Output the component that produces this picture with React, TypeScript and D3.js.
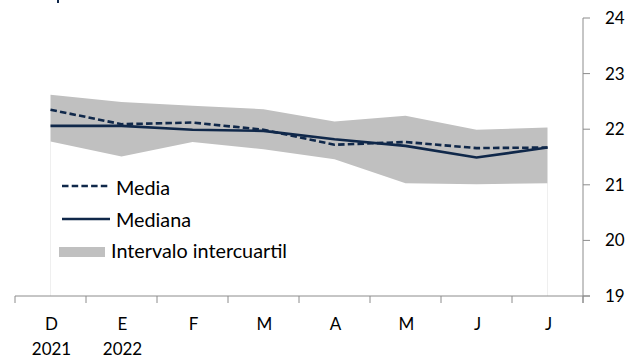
import React from "react";
import * as d3 from "d3";

const months = ["D", "E", "F", "M", "A", "M", "J", "J"];
const years = ["2021", "2022", "", "", "", "", "", ""];
const media = [22.35, 22.09, 22.12, 21.99, 21.72, 21.77, 21.66, 21.67];
const mediana = [22.06, 22.06, 21.99, 21.97, 21.82, 21.7, 21.49, 21.67];
const upper = [22.62, 22.49, 22.42, 22.36, 22.14, 22.24, 21.99, 22.03];
const lower = [21.78, 21.51, 21.77, 21.64, 21.46, 21.03, 21.01, 21.03];
const yTicks = [19, 20, 21, 22, 23, 24];
const legendLabels = ["Media", "Mediana", "Intervalo intercuartil"];

const W = 639;
const H = 358;
const FONT = "Lato, 'Open Sans', sans-serif";
const NAVY = "#10284a";
const GRAY = "#c0c0c0";
const AXIS = "#8c8c8c";

export default function App() {
  const idx = months.map((_, i) => i);
  const x = d3.scaleBand<number>().domain(idx).range([15, 583]);
  const cx = (i: number) => (x(i) as number) + x.bandwidth() / 2;
  const y = d3.scaleLinear().domain([19, 24]).range([296, 18]);
  const axisRight = 583;

  const area = d3
    .area<number>()
    .x((i) => cx(i))
    .y0((i) => y(lower[i]))
    .y1((i) => y(upper[i]));
  const lineOf = (arr: number[]) =>
    d3
      .line<number>()
      .x((i) => cx(i))
      .y((i) => y(arr[i]))(idx) as string;

  const tickXs = idx.map((i) => x(i) as number).concat([583]);
  const last = idx.length - 1;

  return (
    <svg
      width={W}
      height={H}
      style={{ position: "absolute", left: 0, top: 0, background: "#fff" }}
      fontFamily={FONT}
    >
      <rect x={57} y={0} width={2} height={3} fill={NAVY} />
      {/* faint edges of the invisible base area */}
      <line x1={cx(0)} x2={cx(0)} y1={y(lower[0])} y2={296} stroke="#efefef" strokeWidth={1} />
      <line x1={cx(last)} x2={cx(last)} y1={y(lower[last])} y2={296} stroke="#efefef" strokeWidth={1} />
      <path d={area(idx) as string} fill={GRAY} />
      <path d={lineOf(mediana)} fill="none" stroke={NAVY} strokeWidth={2.6} />
      <path
        d={lineOf(media)}
        fill="none"
        stroke={NAVY}
        strokeWidth={2.6}
        strokeDasharray="6.5,3.2"
      />

      {/* x axis */}
      <line x1={15} x2={590} y1={296} y2={296} stroke={AXIS} strokeWidth={1} />
      {tickXs.map((t, k) => (
        <line key={k} x1={t} x2={t} y1={296} y2={303} stroke={AXIS} strokeWidth={1} />
      ))}
      {months.map((m, i) => (
        <text key={"m" + i} x={cx(i) + 1} y={330} textAnchor="middle" fontSize={17} fill="#000">
          {m}
        </text>
      ))}
      {years.map((yy, i) =>
        yy ? (
          <text key={"y" + i} x={cx(i) + 1} y={355} textAnchor="middle" fontSize={17} fill="#000">
            {yy}
          </text>
        ) : null
      )}

      {/* y axis */}
      <line x1={axisRight} x2={axisRight} y1={18} y2={303} stroke={AXIS} strokeWidth={1} />
      {yTicks.map((t) => (
        <g key={t}>
          <line x1={axisRight} x2={axisRight + 7} y1={y(t)} y2={y(t)} stroke={AXIS} strokeWidth={1} />
          <text x={axisRight + 22} y={y(t) + 6} fontSize={17} fill="#000">
            {t}
          </text>
        </g>
      ))}

      {/* legend */}
      <line x1={62} x2={110} y1={186} y2={186} stroke={NAVY} strokeWidth={2.6} strokeDasharray="6.5,3.2" />
      <text x={116} y={195} fontSize={19.8} fill="#000">{legendLabels[0]}</text>
      <line x1={62} x2={110} y1={219} y2={219} stroke={NAVY} strokeWidth={2.6} />
      <text x={116} y={227} fontSize={19.8} fill="#000">{legendLabels[1]}</text>
      <rect x={59} y={247} width={46} height={10} fill={GRAY} />
      <text x={111} y={258} fontSize={19.8} fill="#000">{legendLabels[2]}</text>
    </svg>
  );
}
